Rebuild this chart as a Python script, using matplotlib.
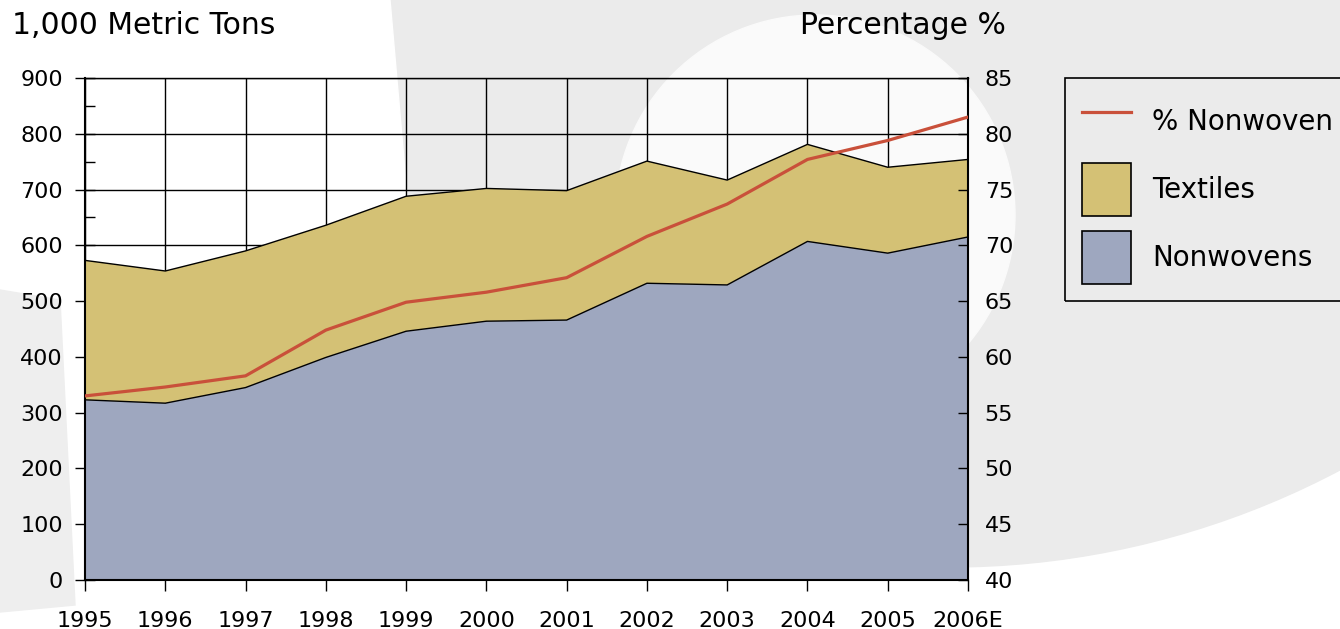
import numpy as np
import matplotlib.pyplot as plt
from matplotlib.patches import Ellipse, Polygon, Patch
from matplotlib.lines import Line2D
from matplotlib.ticker import MultipleLocator, FixedLocator

years = np.arange(1995, 2007)
year_labels = ['1995', '1996', '1997', '1998', '1999', '2000',
               '2001', '2002', '2003', '2004', '2005', '2006E']
nonwovens = [323, 317, 345, 399, 446, 464, 466, 532, 529, 607, 586, 615]
textiles = [250, 237, 245, 237, 242, 238, 232, 219, 188, 174, 154, 139]
pct_nonwoven = [56.5, 57.3, 58.3, 62.4, 64.9, 65.8, 67.1, 70.8, 73.7, 77.7, 79.4, 81.5]

W, H = 1340, 629
blue = '#9ea7bf'
tan = '#d4c175'
red = '#c9503a'
grey = '#ebebeb'

plt.rcParams['font.family'] = ['DejaVu Sans']

fig = plt.figure(figsize=(W / 100, H / 100), dpi=100)
fig.patch.set_facecolor('white')


def fx(x):
    return x / W


def fy(y):
    return 1 - y / H


# faint watermark shapes in the background
tf = fig.transFigure
fig.add_artist(Ellipse((fx(949), fy(-269)), 2 * 836 / W, 2 * 836 / H,
                       transform=tf, color=grey, zorder=-10))
fig.add_artist(Polygon([(0, 1), (fx(390), 1), (fx(445), 0), (0, 0)],
                       transform=tf, color='white', zorder=-9))
fig.add_artist(Ellipse((fx(815), fy(215)), 2 * 200 / W, 2 * 200 / H,
                       transform=tf, color='#fafafa', zorder=-8))
fig.add_artist(Polygon([(0, fy(290)), (fx(60), fy(300)), (fx(75), fy(605)), (0, fy(612))],
                       transform=tf, color='#eeeeee', zorder=-7))

ax = fig.add_axes([fx(85), fy(580), (968 - 85) / W, (580 - 78) / H])
ax.set_facecolor('none')

total = np.array(nonwovens) + np.array(textiles)
ax.stackplot(years, nonwovens, textiles, colors=[blue, tan], linewidth=0, zorder=2)
ax.plot(years, nonwovens, color='black', lw=1, zorder=3)
ax.plot(years, total, color='black', lw=1, zorder=3)

ax.set_xlim(1995, 2006)
ax.set_ylim(0, 900)
ax.set_axisbelow(True)
ax.grid(True, which='major', color='black', lw=1)

ax.xaxis.set_major_locator(FixedLocator(years))
ax.set_xticklabels(year_labels)
ax.xaxis.set_minor_locator(MultipleLocator(0.5))
ax.yaxis.set_major_locator(MultipleLocator(100))
ax.yaxis.set_minor_locator(MultipleLocator(50))
ax.tick_params(axis='x', which='major', direction='out', length=8, width=1,
               pad=14, labelsize=16)
ax.tick_params(axis='x', which='minor', direction='in', length=6, width=1)
ax.tick_params(axis='y', which='major', direction='inout', length=14, width=1,
               pad=9, labelsize=16)
ax.tick_params(axis='y', which='minor', direction='in', length=7, width=1)
for s in ['left', 'right', 'bottom']:
    ax.spines[s].set_linewidth(1.5)
ax.spines['top'].set_linewidth(1)

ax2 = ax.twinx()
ax2.plot(years, pct_nonwoven, color=red, lw=2.3, zorder=4)
ax2.set_ylim(40, 85)
ax2.yaxis.set_major_locator(MultipleLocator(5))
ax2.tick_params(axis='y', direction='in', length=7, width=1, pad=12, labelsize=16)
for s in ax2.spines.values():
    s.set_visible(False)

fig.text(fx(12), fy(26), '1,000 Metric Tons', fontsize=21.5, ha='left', va='center')
fig.text(fx(1006), fy(26), 'Percentage %', fontsize=21.5, ha='right', va='center')

handles = [Line2D([], [], color=red, lw=2.3),
           Patch(facecolor=tan, edgecolor='black', lw=1.2),
           Patch(facecolor=blue, edgecolor='black', lw=1.2)]
labels = ['% Nonwoven', 'Textiles', 'Nonwovens']
leg = fig.legend(handles, labels, loc='upper left', bbox_to_anchor=(fx(1065), fy(78)),
                 bbox_transform=tf, fontsize=20, frameon=True, fancybox=False,
                 edgecolor='black', facecolor='none', framealpha=1,
                 handlelength=1.76, handleheight=2.56, labelspacing=0.55,
                 handletextpad=0.79, borderpad=0.6, borderaxespad=0)
leg.get_frame().set_linewidth(1.2)

fig.savefig('out.png', dpi=100)
